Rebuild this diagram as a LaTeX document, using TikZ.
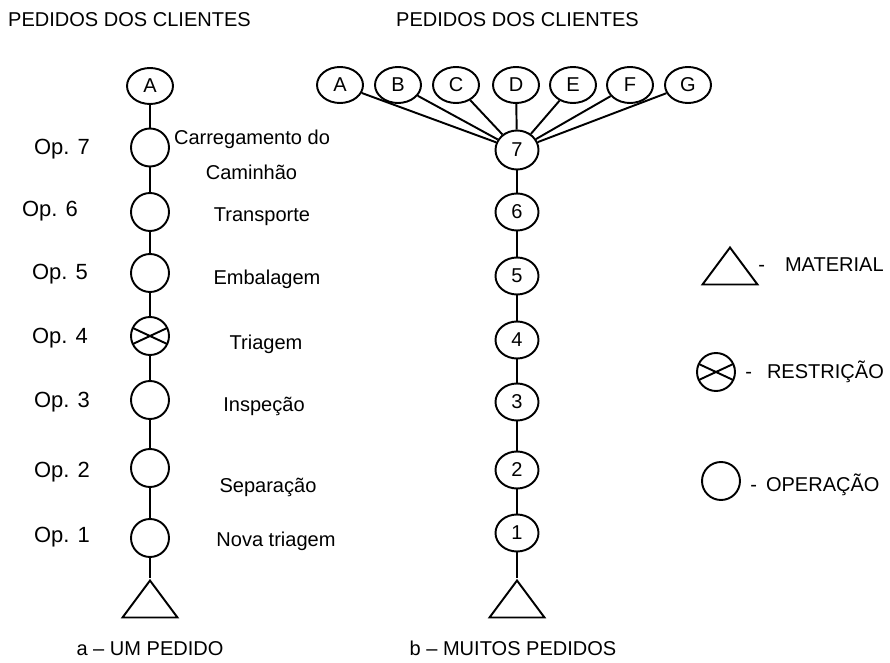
\documentclass[tikz,border=0pt]{standalone}
\usepackage{fontspec}
\setmainfont{Liberation Sans}
\usetikzlibrary{shapes}
\usetikzlibrary{positioning}
\tikzset{
    link/.style = {line width=1.1pt},
    pedido/.style = {ellipse, line width=1.1pt, draw=black, minimum width=0.92cm, minimum height=0.72cm, inner sep=0pt, font=\fontsize{11.4}{13}\selectfont},
    opnum/.style = {ellipse, line width=1.1pt, draw=black, minimum width=0.86cm, minimum height=0.74cm, inner sep=0pt, font=\fontsize{11.4}{13}\selectfont},
    oper/.style = {circle, line width=1.1pt, draw=black, minimum size=0.76cm, inner sep=0pt},
    restr/.style = {oper, path picture={
        \draw[line width=1.1pt] ([shift={(155:0.4cm)}]path picture bounding box.center) -- ([shift={(-25:0.4cm)}]path picture bounding box.center);
        \draw[line width=1.1pt] ([shift={(205:0.4cm)}]path picture bounding box.center) -- ([shift={(25:0.4cm)}]path picture bounding box.center);}},
    material/.style = {isosceles triangle, isosceles triangle stretches, shape border rotate=90, draw=black, line width=1.1pt, minimum width=1.1cm, minimum height=0.74cm, inner sep=0pt},
    txt/.style = {inner sep=0pt, text height=0.72em, text depth=0pt, font=\fontsize{11.4}{13}\selectfont},
    oplabel/.style = {txt, font=\fontsize{12.5}{14}\selectfont}
}

\begin{document}
\begin{tikzpicture}
\useasboundingbox (0,0) rectangle (17.8,13.24);
% titulos
\node[txt] at (2.59, 12.83) (tit1) {PEDIDOS DOS CLIENTES};
\node[txt] at (10.35, 12.83) (tit2) {PEDIDOS DOS CLIENTES};
\node[txt] at (3.0, 0.25) (capa) {a -- UM PEDIDO};
\node[txt] at (10.26, 0.25) (capb) {b -- MUITOS PEDIDOS};
%
% a - um pedido
\node[pedido] at (3.0, 11.52) (a) {A};
\node[oper] at (3.0, 10.29) (op7) {};
\node[oper] at (3.0, 9.0) (op6) {};
\node[oper] at (3.0, 7.78) (op5) {};
\node[restr] at (3.0, 6.52) (op4) {};
\node[oper] at (3.0, 5.24) (op3) {};
\node[oper] at (3.0, 3.88) (op2) {};
\node[oper] at (3.0, 2.48) (op1) {};
\node[material, anchor=apex] at (3.0, 1.68) (mat1) {};
%
\node[oplabel] at (1.24, 10.27) (l7) {Op. 7};
\node[oplabel] at (1.0, 9.03) (l6) {Op. 6};
\node[oplabel] at (1.2, 7.78) (l5) {Op. 5};
\node[oplabel] at (1.2, 6.5) (l4) {Op. 4};
\node[oplabel] at (1.24, 5.22) (l3) {Op. 3};
\node[oplabel] at (1.24, 3.82) (l2) {Op. 2};
\node[oplabel] at (1.24, 2.52) (l1) {Op. 1};
%
\node[txt] at (5.04, 10.47) (t7a) {Carregamento do};
\node[txt] at (5.03, 9.77) (t7b) {Caminhão};
\node[txt] at (5.24, 8.94) (t6) {Transporte};
\node[txt] at (5.34, 7.68) (t5) {Embalagem};
\node[txt] at (5.32, 6.37) (t4) {Triagem};
\node[txt] at (5.28, 5.14) (t3) {Inspeção};
\node[txt] at (5.36, 3.52) (t2) {Separação};
\node[txt] at (5.52, 2.44) (t1) {Nova triagem};
%
\draw[link] (a) -- (op7);
\draw[link] (op7) -- (op6);
\draw[link] (op6) -- (op5);
\draw[link] (op5) -- (op4);
\draw[link] (op4) -- (op3);
\draw[link] (op3) -- (op2);
\draw[link] (op2) -- (op1);
\draw[link] (op1) -- (mat1.apex);
%
% b - muitos pedidos
\node[pedido] at (6.8, 11.54) (pa) {A};
\node[pedido] at (7.96, 11.54) (pb) {B};
\node[pedido] at (9.12, 11.54) (pc) {C};
\node[pedido] at (10.32, 11.54) (pd) {D};
\node[pedido] at (11.46, 11.54) (pe) {E};
\node[pedido] at (12.6, 11.54) (pf) {F};
\node[pedido] at (13.76, 11.54) (pg) {G};
\node[opnum, minimum height=0.78cm] at (10.34, 10.24) (n7) {7};
\node[opnum] at (10.34, 9.0) (n6) {6};
\node[opnum] at (10.34, 7.72) (n5) {5};
\node[opnum] at (10.34, 6.44) (n4) {4};
\node[opnum] at (10.34, 5.2) (n3) {3};
\node[opnum] at (10.34, 3.84) (n2) {2};
\node[opnum] at (10.34, 2.58) (n1) {1};
\node[material, anchor=apex] at (10.34, 1.68) (mat2) {};
%
\draw[link] (pa) -- (n7);
\draw[link] (pb) -- (n7);
\draw[link] (pc) -- (n7);
\draw[link] (pd) -- (n7);
\draw[link] (pe) -- (n7);
\draw[link] (pf) -- (n7);
\draw[link] (pg) -- (n7);
\draw[link] (n7) -- (n6);
\draw[link] (n6) -- (n5);
\draw[link] (n5) -- (n4);
\draw[link] (n4) -- (n3);
\draw[link] (n3) -- (n2);
\draw[link] (n2) -- (n1);
\draw[link] (n1) -- (mat2.apex);
%
% legenda
\node[material, anchor=apex] at (14.6, 8.34) (legmat) {};
\node[restr] at (14.32, 5.8) (legres) {};
\node[oper] at (14.42, 3.62) (legop) {};
\node[txt, anchor=west] at (15.16, 7.93) (txtmat) {-\hspace{0.4cm}MATERIAL};
\node[txt, anchor=west] at (14.9, 5.79) (txtres) {-\hspace{0.3cm}RESTRIÇÃO};
\node[txt, anchor=west] at (15.0, 3.53) (txtop) {-\hspace{0.18cm}OPERAÇÃO};
\end{tikzpicture}
\end{document}
